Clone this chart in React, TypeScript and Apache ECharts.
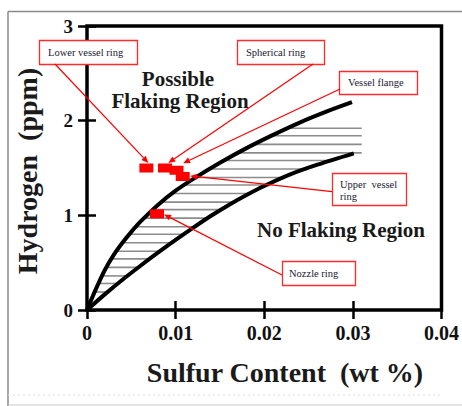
import React, { useEffect, useRef } from "react";
import * as echarts from "echarts";

// ---- data ----
const xTickValues = [0, 0.01, 0.02, 0.03, 0.04];
const yTickValues = [0, 1, 2, 3];

const upperCurveS = [0, 0.001, 0.002, 0.003, 0.004, 0.005, 0.006, 0.008, 0.01, 0.012, 0.015, 0.018, 0.021, 0.024, 0.027, 0.0299];
const upperCurveH = [0, 0.22, 0.42, 0.58, 0.71, 0.825, 0.93, 1.11, 1.26, 1.385, 1.555, 1.71, 1.85, 1.98, 2.095, 2.195];

const lowerCurveS = [0, 0.002, 0.004, 0.006, 0.008, 0.01, 0.012, 0.014, 0.016, 0.018, 0.02, 0.023, 0.026, 0.0301];
const lowerCurveH = [0, 0.165, 0.32, 0.465, 0.605, 0.74, 0.87, 0.995, 1.11, 1.215, 1.31, 1.435, 1.535, 1.655];

const hatchLevels = [0.19, 0.28, 0.36, 0.45, 0.54, 0.62, 0.71, 0.8, 0.88, 0.97, 1.06, 1.14, 1.23, 1.32, 1.4, 1.49, 1.58, 1.66, 1.75, 1.84, 1.92];
const hatchRightLimit = 0.031;

const componentNames = ["Lower vessel ring", "Spherical ring", "Vessel flange", "Upper vessel ring", "Nozzle ring"];
const componentS = [0.0067, 0.0088, 0.0101, 0.0108, 0.0079];
const componentH = [1.5, 1.5, 1.476, 1.41, 1.016];

// ---- layout of callouts (pixels) ----
const calloutLayout = [
  { box: [39, 40, 98, 24], lines: ["Lower vessel ring"], tx: 48, ty: 52, from: [55, 64], tip: [2, -5] },
  { box: [237, 40, 87, 24], lines: ["Spherical ring"], tx: 246, ty: 52, from: [313, 64], tip: [3.3, -5] },
  { box: [339, 71, 78, 23], lines: ["Vessel flange"], tx: 348, ty: 82, from: [340, 89], tip: [6.6, -7] },
  { box: [332, 173, 74, 32], lines: ["Upper  vessel", "ring"], tx: 340, ty: 184.5, from: [332, 191.7], tip: [7.4, -0.6] },
  { box: [282, 261, 73, 24], lines: ["Nozzle ring"], tx: 289, ty: 273, from: [282, 275], tip: [7, 0.6] },
];

function xAtLevel(xs: number[], ys: number[], y: number): number | null {
  for (let i = 0; i < ys.length - 1; i++) {
    if (y >= ys[i] && y <= ys[i + 1]) {
      const t = (y - ys[i]) / (ys[i + 1] - ys[i]);
      return xs[i] + t * (xs[i + 1] - xs[i]);
    }
  }
  return null;
}

export default function App() {
  const ref = useRef<HTMLDivElement>(null);

  useEffect(() => {
    if (!ref.current) return;
    const chart = echarts.init(ref.current, undefined, { renderer: "svg" });
    const serif = "Liberation Serif, serif";

    const upperData = upperCurveS.map((s, i) => [s, upperCurveH[i]]);
    const lowerData = lowerCurveS.map((s, i) => [s, lowerCurveH[i]]);
    const hatchData = hatchLevels.map((h) => {
      const left = xAtLevel(upperCurveS, upperCurveH, h) ?? 0;
      const rightOnCurve = xAtLevel(lowerCurveS, lowerCurveH, h);
      const right = rightOnCurve === null ? hatchRightLimit : rightOnCurve;
      return [left, right, h];
    });
    const markerData = componentS.map((s, i) => ({ name: componentNames[i], value: [s, componentH[i]] }));

    const tick = { inside: true, length: 9, lineStyle: { color: "#000", width: 2.5 } };
    const option: any = {
      animation: false,
      backgroundColor: "#fff",
      grid: {
        left: 87, right: 19, top: 26, bottom: 96,
        show: true, borderColor: "#000", borderWidth: 3.5, backgroundColor: "transparent",
      },
      xAxis: [
        {
          type: "value", min: xTickValues[0], max: xTickValues[xTickValues.length - 1], interval: 0.01,
          position: "bottom", axisLine: { show: false }, splitLine: { show: false }, axisTick: tick,
          axisLabel: {
            margin: 13, fontFamily: serif, fontWeight: "bold", fontSize: 20, color: "#111",
            formatter: (v: number) => (v === 0 ? "0" : v.toFixed(2)),
          },
        },
        {
          type: "value", min: xTickValues[0], max: xTickValues[xTickValues.length - 1], interval: 0.01,
          position: "top", axisLine: { show: false }, splitLine: { show: false }, axisTick: tick,
          axisLabel: { show: false },
        },
      ],
      yAxis: [
        {
          type: "value", min: yTickValues[0], max: yTickValues[yTickValues.length - 1], interval: 1,
          position: "left", axisLine: { show: false }, splitLine: { show: false }, axisTick: tick,
          axisLabel: { margin: 14, fontFamily: serif, fontWeight: "bold", fontSize: 19, color: "#111" },
        },
        {
          type: "value", min: yTickValues[0], max: yTickValues[yTickValues.length - 1], interval: 1,
          position: "right", axisLine: { show: false }, splitLine: { show: false }, axisTick: tick,
          axisLabel: { show: false },
        },
      ],
      series: [
        {
          type: "custom",
          xAxisIndex: 0, yAxisIndex: 0,
          data: hatchData,
          encode: { x: [0, 1], y: 2 },
          z: 1,
          renderItem: (params: any, api: any) => {
            const p1 = api.coord([api.value(0), api.value(2)]);
            const p2 = api.coord([api.value(1), api.value(2)]);
            return {
              type: "line",
              shape: { x1: p1[0], y1: p1[1], x2: p2[0], y2: p2[1] },
              style: { stroke: "#8c8c8c", lineWidth: 1.6 },
            };
          },
        },
        {
          type: "line", data: upperData, showSymbol: false, smooth: 0.3,
          lineStyle: { color: "#000", width: 4 }, z: 3,
        },
        {
          type: "line", data: lowerData, showSymbol: false, smooth: 0.3,
          lineStyle: { color: "#000", width: 4 }, z: 3,
        },
        {
          type: "scatter", data: markerData, symbol: "rect", symbolSize: [14, 9],
          itemStyle: { color: "#ff0000", opacity: 1 }, z: 5,
        },
      ],
    };
    chart.setOption(option);

    const graphics: any[] = [];
    // outer frame
    graphics.push({ type: "line", shape: { x1: 8, y1: 11.5, x2: 462, y2: 11.5 }, style: { stroke: "#8a8a8a", lineWidth: 1.5 }, z: 10 });
    graphics.push({ type: "line", shape: { x1: 8, y1: 11.5, x2: 8, y2: 406 }, style: { stroke: "#8a8a8a", lineWidth: 1.5 }, z: 10 });
    graphics.push({ type: "line", shape: { x1: 8, y1: 395, x2: 440, y2: 395 }, style: { stroke: "#e0e0e0", lineWidth: 1, lineDash: [2, 3] }, z: 10 });
    graphics.push({ type: "line", shape: { x1: 8, y1: 405, x2: 462, y2: 405 }, style: { stroke: "#c8c8c8", lineWidth: 1 }, z: 10 });

    // region labels
    const regionFont = { fontFamily: serif, fontWeight: "bold", fontSize: 21, fill: "#1a1a1a" };
    graphics.push({ type: "text", x: 178, y: 79, style: { ...regionFont, text: "Possible", align: "center", verticalAlign: "middle" }, z: 10 });
    graphics.push({ type: "text", x: 180, y: 101, style: { ...regionFont, text: "Flaking Region", align: "center", verticalAlign: "middle" }, z: 10 });
    graphics.push({ type: "text", x: 341, y: 230, style: { ...regionFont, text: "No Flaking Region", align: "center", verticalAlign: "middle" }, z: 10 });

    // axis titles
    const titleFont = { fontFamily: serif, fontWeight: "bold", fontSize: 28, fill: "#1a1a1a" };
    graphics.push({ type: "text", x: 285, y: 372, style: { ...titleFont, text: "Sulfur Content  (wt %)", align: "center", verticalAlign: "middle" }, z: 10 });
    graphics.push({ type: "text", x: 27, y: 171, rotation: Math.PI / 2, style: { ...titleFont, text: "Hydrogen  (ppm)", align: "center", verticalAlign: "middle" }, z: 10 });

    // callouts
    calloutLayout.forEach((c, i) => {
      const center = chart.convertToPixel({ xAxisIndex: 0, yAxisIndex: 0 }, [componentS[i], componentH[i]]) as number[];
      const tx = center[0] + c.tip[0];
      const ty = center[1] + c.tip[1];
      const sx = c.from[0];
      const sy = c.from[1];
      const len = Math.hypot(tx - sx, ty - sy);
      const dx = (tx - sx) / len;
      const dy = (ty - sy) / len;
      const L = 7, W = 3;
      const bx = tx - dx * L, by = ty - dy * L;
      graphics.push({
        type: "rect",
        shape: { x: c.box[0] + 0.5, y: c.box[1] + 0.5, width: c.box[2], height: c.box[3] },
        style: { fill: "#fff", stroke: "#ff2a2a", lineWidth: 1.3 }, z: 20,
      });
      c.lines.forEach((ln, k) => {
        graphics.push({
          type: "text", x: c.tx, y: c.ty + k * 12.4,
          style: { text: ln, fontFamily: serif, fontSize: 10.5, fill: "#181830", align: "left", verticalAlign: "middle" }, z: 21,
        });
      });
      graphics.push({
        type: "line", shape: { x1: sx, y1: sy, x2: bx, y2: by },
        style: { stroke: "#ff0000", lineWidth: 1.2 }, z: 20,
      });
      graphics.push({
        type: "polygon",
        shape: { points: [[tx, ty], [bx - dy * W, by + dx * W], [bx + dy * W, by - dx * W]] },
        style: { fill: "#ff0000" }, z: 20,
      });
    });

    chart.setOption({ graphic: graphics });

    return () => chart.dispose();
  }, []);

  return (
    <div
      ref={ref}
      style={{ position: "fixed", left: 0, top: 0, width: 462, height: 406, background: "#fff" }}
    />
  );
}
